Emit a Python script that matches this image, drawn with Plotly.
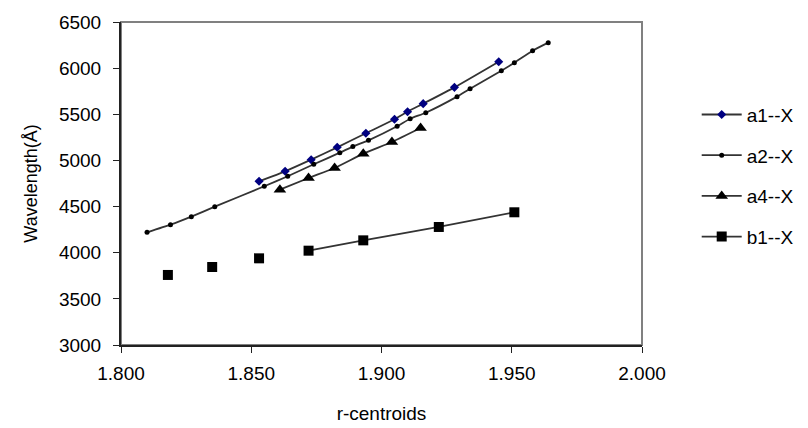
import plotly.graph_objects as go

# ---- data ----
a1_x = [1.853, 1.863, 1.873, 1.883, 1.894, 1.905, 1.910, 1.916, 1.928, 1.945]
a1_y = [4774, 4882, 5008, 5142, 5294, 5446, 5528, 5615, 5792, 6070]

a2_x = [1.810, 1.819, 1.827, 1.836, 1.855, 1.864, 1.874, 1.884, 1.889, 1.895,
        1.906, 1.911, 1.917, 1.929, 1.934, 1.946, 1.951, 1.958, 1.964]
a2_y = [4221, 4304, 4391, 4499, 4720, 4828, 4958, 5084, 5150, 5218,
        5370, 5452, 5517, 5691, 5777, 5972, 6059, 6189, 6276]

a4_x = [1.861, 1.872, 1.882, 1.893, 1.904, 1.915]
a4_y = [4683, 4810, 4918, 5073, 5200, 5351]

# first three b1 points are not joined by the line (None = gap)
b1_x = [1.818, None, 1.835, None, 1.853, None, 1.872, 1.893, 1.922, 1.951]
b1_y = [3759, None, 3845, None, 3939, None, 4022, 4134, 4279, 4438]

x_ticks = [1.80, 1.85, 1.90, 1.95, 2.00]
y_ticks = [3000, 3500, 4000, 4500, 5000, 5500, 6000, 6500]

FONT = "Liberation Sans, Arial, sans-serif"
LINE = "#333333"

fig = go.Figure()

def add(name, xs, ys, symbol, size, mcolor):
    fig.add_trace(go.Scatter(
        x=xs, y=ys, name=name, mode="lines+markers",
        line=dict(color=LINE, width=1.8, shape="spline", smoothing=0.5),
        marker=dict(symbol=symbol, size=size, color=mcolor,
                    line=dict(width=0)),
        connectgaps=False, legendgroup=name,
    ))

add("a1--X", a1_x, a1_y, "diamond", 7, "#000080")
add("a2--X", a2_x, a2_y, "circle", 5, "#000000")
add("a4--X", a4_x, a4_y, "triangle-up", 11, "#000000")
add("b1--X", b1_x, b1_y, "square", 10, "#000000")

fig.update_layout(
    width=808, height=428,
    margin=dict(l=113, r=174, t=14, b=91, autoexpand=False),
    paper_bgcolor="white", plot_bgcolor="white",
    font=dict(family=FONT, size=19, color="#000000"),
    showlegend=True,
    legend=dict(x=1.105, xanchor="left", y=0.772, yanchor="top",
                font=dict(size=19), tracegroupgap=13,
                bgcolor="rgba(0,0,0,0)", itemwidth=40),
    shapes=[dict(type="rect", xref="paper", yref="paper", x0=0, x1=1, y0=0, y1=1,
                 line=dict(color="#808080", width=2), layer="below")],
)

fig.update_xaxes(
    range=[1.8, 2.0], tickvals=x_ticks, tickformat=".3f",
    showgrid=False, zeroline=False,
    showline=True, linecolor="#222222", linewidth=2,
    ticks="outside", ticklen=6, tickcolor="#222222", tickwidth=1,
    ticklabelstandoff=4,
    title=dict(text="r-centroids", font=dict(size=19), standoff=24),
)
fig.update_yaxes(
    range=[3000, 6500], tickvals=y_ticks,
    showgrid=False, zeroline=False,
    showline=True, linecolor="#222222", linewidth=2,
    ticks="outside", ticklen=6, tickcolor="#222222", tickwidth=1,
    ticklabelstandoff=8,
    title=dict(text="Wavelength(Å)", font=dict(size=18), standoff=17),
)

fig.write_html("out.html")
